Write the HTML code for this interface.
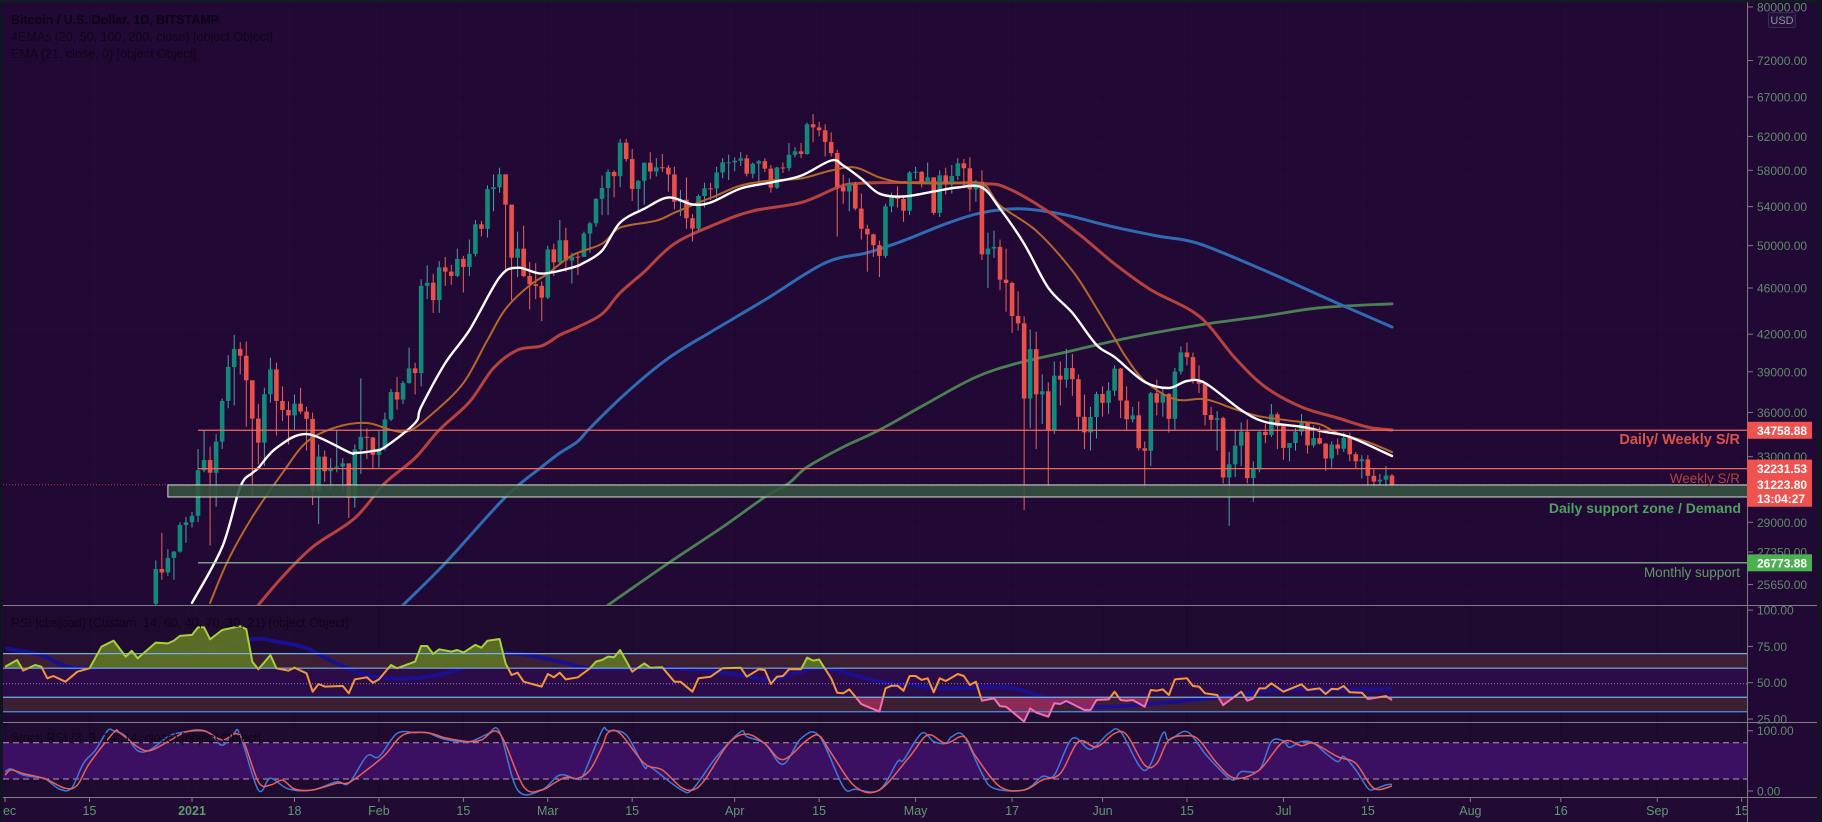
<!DOCTYPE html>
<html lang="en">
<head>
<meta charset="utf-8">
<title>Bitcoin / U.S. Dollar daily chart</title>
<style>
html,body{margin:0;padding:0;background:#220835;width:1822px;height:822px;overflow:hidden}
svg{display:block;font-family:"Liberation Sans",sans-serif}
</style>
</head>
<body>
<svg id="chart" xmlns="http://www.w3.org/2000/svg" width="1822" height="822" viewBox="0 0 1822 822">
  <defs>
    <clipPath id="clip-main"><rect x="3" y="3" width="1745" height="602"/></clipPath>
    <clipPath id="clip-time"><rect x="3" y="797" width="1745" height="25"/></clipPath>
    <clipPath id="clip-rsi-high"><rect x="3" y="606" width="1745" height="62.2"/></clipPath>
    <clipPath id="clip-rsi-mid"><rect x="3" y="668.2" width="1745" height="29"/></clipPath>
    <clipPath id="clip-rsi-low"><rect x="3" y="697.2" width="1745" height="25.5"/></clipPath>
  </defs>
  <rect x="0" y="0" width="1822" height="822" fill="#220835"/>
  <rect x="3" y="605" width="1745" height="118" fill="#1f0a30"/>
  <rect x="3" y="723" width="1745" height="74" fill="#1f0a30"/>
  <rect x="3" y="797" width="1745" height="25" fill="#210a33"/>
  <g id="grid"></g>
  <g id="rsi-panel"></g>
  <g id="stoch-panel"></g>
  <g id="main-panel" clip-path="url(#clip-main)"></g>

  <line x1="3" y1="605.5" x2="1817" y2="605.5" stroke="#7c7f80" stroke-width="1"/>
  <line x1="3" y1="722.5" x2="1817" y2="722.5" stroke="#7c7f80" stroke-width="1"/>
  <line x1="3" y1="797.5" x2="1817" y2="797.5" stroke="#7c7f80" stroke-width="1"/>
  <line x1="1747.5" y1="2" x2="1747.5" y2="822" stroke="#7c7f80" stroke-width="1"/>

  <g id="price-axis" font-size="12" fill="#5f8c6a"></g>
  <g id="rsi-axis" font-size="12" fill="#5f8c6a"></g>
  <g id="stoch-axis" font-size="12" fill="#5f8c6a"></g>
  <g id="time-axis" font-size="12.5" fill="#5f9a6c" clip-path="url(#clip-time)"></g>
  <g id="price-badges"></g>

  <g>
    <rect x="1768.5" y="12.5" width="27" height="15" rx="2" fill="#241038" stroke="#3a2a55"/>
    <text x="1782" y="24" font-size="11" text-anchor="middle" fill="#8f93a6">USD</text>
  </g>

  <text x="1740" y="444" font-size="14.5" font-weight="bold" text-anchor="end" fill="#d8544a">Daily/ Weekly S/R</text>
  <text x="1740" y="483" font-size="13.5" text-anchor="end" fill="#b0433f">Weekly S/R</text>
  <text x="1741" y="513" font-size="14" font-weight="bold" text-anchor="end" fill="#4da25b">Daily support zone / Demand</text>
  <text x="1740" y="577" font-size="13.5" text-anchor="end" fill="#5f9a66">Monthly support</text>

  <text x="11" y="24" font-size="12.5" font-weight="bold" fill="#0b0414">Bitcoin / U.S. Dollar, 1D, BITSTAMP</text>
  <text x="11" y="41" font-size="12.5" fill="#0e0618">4EMAs (20, 50, 100, 200, close) [object Object]</text>
  <text x="11" y="58" font-size="12.5" fill="#0e0618">EMA (21, close, 0) [object Object]</text>
  <text x="11" y="627" font-size="12.5" fill="#0e0618">RSI [cbsjoad] (Custom: 14, 60, 40, 70, 30, 21) [object Object]</text>
  <text x="11" y="742" font-size="12.5" fill="#0e0618">Stoch RSI (3, 3, 14, 14, close) [object Object]</text>

  <rect x="0" y="0" width="2.5" height="822" fill="#0e1420"/>
  <rect x="0" y="0" width="1822" height="2.5" fill="#141a24"/>
  <rect x="1817" y="0" width="5" height="822" fill="#121622"/>
</svg>
<script>
// ---- Candle data: one entry per day, first candle is Dec 26 2020 (day -6, day 0 = Jan 1 2021) ----
const firstCandleDay = -6;
const opens = [
24700,26450,26270,27036,27370,28840,
29000,29374,32127,32782,31971,33992,36824,39371,40797,40254,38356,35566,33922,37316,39187,36825,36178,35792,36630,36069,35547,30825,33005,32067,32289,32366,32569,30432,33466,34316,34269,
33114,33537,35510,37472,36926,38144,39266,38903,46196,46481,44918,47910,47504,47105,48717,47944,49199,52149,51679,55888,56099,57539,54207,48824,49705,47093,46339,46188,
45137,49631,48378,50538,48561,48927,48912,51206,52246,54824,56008,57805,57332,61243,59302,55907,56804,58870,57858,58346,58313,57523,54529,54738,52774,51704,55137,55974,55947,57750,58917,
58918,59095,59384,57603,58758,59057,58192,56048,58323,58245,59793,60204,59893,63503,63109,62757,61334,60006,56150,55633,56425,53787,51690,51125,50047,49004,54021,55033,54824,53555,
57750,57828,56631,57200,53333,57424,56396,57356,58803,58232,55859,56704,49150,49716,49880,46760,46456,43537,42909,37002,40782,37304,37536,34770,38705,38403,39294,38436,35697,34616,35678,
37332,36693,37576,39249,36856,35521,35796,33552,33380,37389,36702,37334,35552,39020,40516,40144,38349,38092,35819,35483,35600,31676,32505,33723,34662,31637,32186,34649,34434,35867,
35040,33572,33897,34668,35287,33746,34235,33855,32877,33798,33520,34240,33155,32702,32822,31780,31421,31533,31796];
const highs = [
26900,28400,27500,27400,28990,29300,
29600,33500,34800,33650,34500,37000,40300,41950,41350,41400,38300,36600,37800,40100,39700,37900,36800,37300,37800,36400,36000,33800,33400,32900,34800,32900,32550,33800,38500,34900,34300,
34700,36000,37700,38600,38300,40900,39700,46800,48100,47300,48500,48900,48150,49700,49000,50600,52600,52500,56300,57500,58300,57500,54200,51400,52000,48400,48300,46600,
50000,50200,52600,51800,49300,49200,51400,52400,54900,57400,58100,58000,61700,61700,60500,56900,58900,60100,59400,59900,58600,58400,55800,57200,53200,55300,56600,56600,58400,59400,59800,
59500,60100,59800,58900,59200,59400,58600,58400,58900,61200,60700,61200,63700,64800,63800,63500,62500,60400,57500,57100,56700,55400,52100,51200,50500,54300,55500,56200,55100,57900,
58400,57900,58900,57200,58000,58300,58600,59400,59300,59500,56900,58000,51300,51500,50600,49700,46600,45700,43500,42400,42200,38800,38200,39800,39800,40800,40400,38800,37300,36400,37500,
37900,38200,39500,39300,37900,36400,36800,34000,37500,38400,37700,37400,39300,41000,41300,40500,39500,38200,36400,36100,35700,33300,34800,35300,35500,32700,34700,35200,36600,36000,
35000,33900,34900,35900,35300,35100,35000,33900,34000,34200,34600,34600,33300,33100,33100,32200,31900,32400,31900];
const lows = [
24500,25900,26100,25900,27320,27850,
28700,29000,32000,27700,29900,33500,36300,36500,38800,35000,30500,32500,32400,36700,34400,35400,33800,34800,35900,33400,30000,28900,31400,30900,32000,30800,29250,29850,31900,32850,32200,
32300,33400,35400,36200,36600,38100,37300,37900,45000,43800,43800,46200,46300,47000,45600,47100,48950,50900,50800,53500,55500,47600,44900,47000,47000,44100,45000,43100,
45000,47100,48200,47500,46400,47200,48900,49300,51900,53100,53100,55000,56100,59000,54600,53300,54200,57000,57300,57800,55600,53700,53000,51700,50400,51500,53900,54700,54900,57100,56900,
57900,58500,57300,57100,56700,57800,55500,55900,57700,57900,59500,59400,59800,61300,62000,59600,59600,50900,54300,53500,53600,50600,47500,48900,47000,48800,53400,53900,52400,53100,
57000,56100,56500,53100,52900,55300,55400,56900,56300,53500,54500,48600,46000,48800,45800,43900,42100,42300,29700,34900,33500,35200,31100,34500,36500,37800,37200,34700,33500,33400,34200,
35700,35900,37200,35600,34800,35300,33400,31000,32400,35800,35700,34600,34800,38800,39500,38100,37400,35100,34800,33400,31300,28800,31700,32400,31300,30200,32000,33900,34300,33500,
32800,32700,33400,34400,33200,33600,33800,32100,32300,33100,33300,32700,32200,31600,31100,31000,31200,31100,31000];
const closes = [
26450,26270,27036,27370,28840,29000,
29374,32127,32782,31971,33992,36824,39371,40797,40254,38356,35566,33922,37316,39187,36825,36178,35792,36630,36069,35547,30825,33005,32067,32289,32366,32569,30432,33466,34316,34269,33114,
33537,35510,37472,36926,38144,39266,38903,46196,46481,44918,47910,47504,47105,48717,47944,49199,52149,51679,55888,56099,57539,54207,48824,49705,47093,46339,46188,45137,
49631,48378,50538,48561,48927,48912,51206,52246,54824,56008,57805,57332,61243,59302,55907,56804,58870,57858,58346,58313,57523,54529,54738,52774,51704,55137,55974,55947,57750,58917,58918,
59095,59384,57603,58758,59057,58192,56048,58323,58245,59793,60204,59893,63503,63109,62757,61334,60006,56150,55633,56425,53787,51690,51125,50047,49004,54021,55033,54824,53555,57750,
57828,56631,57200,53333,57424,56396,57356,58803,58232,55859,56704,49150,49716,49880,46760,46456,43537,42909,37002,40782,37304,37536,34770,38705,38403,39294,38436,35697,34616,35678,37332,
36693,37576,39249,36856,35521,35796,33552,33380,37389,36702,37334,35552,39020,40516,40144,38349,38092,35819,35483,35600,31676,32505,33723,34662,31637,32186,34649,34434,35867,35040,
33572,33897,34668,35287,33746,34235,33855,32877,33798,33520,34240,33155,32702,32822,31780,31421,31533,31796,31223];

// ---- Moving averages (day, price) ----
const whiteDays = [0,5,8,10,11,14,19,26,27,30,32,37,38,42,46,51,54,58,63,65,68,71,75,79,83,86,91,96,101,106,108,111,114,118,123,127,131,134,138,142,146,150,153,158,162,165,168,174,178,184,188,192,199];
const whiteValues = [24740,27620,31085,31950,32270,33570,34500,33300,33240,33370,33630,35260,36390,39680,42330,46970,47880,47320,47880,48350,49510,52320,53770,54970,54230,54440,55960,56620,57390,59130,58550,57050,55400,55080,55630,56070,56070,53770,50190,46020,43800,41120,40150,38230,37780,38300,38150,36170,35330,35000,34640,34300,33040];
const orangeDays = [3,6,10,15,19,24,29,33,36,40,45,49,52,56,59,63,68,71,77,80,84,87,91,96,101,106,110,114,118,125,131,134,140,146,150,153,155,158,163,168,173,177,183,187,190,195,199];
const orangeValues = [24740,26920,29300,31950,33960,34980,35260,34780,34710,35960,38150,41520,44140,46240,47320,49040,50190,51800,52520,53350,54420,55190,56290,56850,57070,57980,58320,57190,56620,56500,56500,54110,51490,47580,44210,41670,40060,38300,36950,36950,36230,35730,35380,35180,34570,33960,33300];
const redDays = [11,15,20,27,32,37,41,46,50,54,58,61,64,68,71,75,80,87,93,101,107,110,118,131,135,141,147,153,159,167,173,178,184,190,195,199];
const redValues = [24640,26040,27620,29240,31330,32910,34780,36750,39290,40710,41050,41930,42600,43700,45570,47500,50190,52200,53540,54420,56060,56500,56620,56500,56060,53890,51190,48240,45840,43520,40060,37850,36390,35610,34980,34780];
const blueDays = [35,42,52,58,61,64,66,72,79,86,95,105,112,118,125,131,137,144,152,160,167,178,185,191,199];
const blueValues = [24640,26760,30480,32340,33240,34010,34910,37410,40060,42170,44930,48330,49310,50490,52200,53350,53770,53240,51990,50970,50190,47580,45840,44400,42600];
const greenDays = [69,79,88,95,99,102,108,114,122,130,137,145,155,167,177,187,199];
const greenValues = [24640,26760,28730,30480,31330,32330,33630,34780,36680,38600,39680,40550,41670,42760,43460,44240,44590];

// ---- RSI panel ----
const rsiDays = [-31,-29,-28,-26,-25,-24,-23,-21,-19,-17,-15,-13,-11,-10,-9,-6,-4,-3,-2,0,1,2,3,5,8,9,10,11,13,14,16,17,19,20,21,22,25,26,27,29,30,31,33,34,37,38,39,40,41,43,44,45,47,48,49,51,52,53,54,55,58,59,60,61,62,64,66,67,68,69,70,71,73,75,76,78,80,81,83,84,86,88,91,92,94,95,96,97,98,99,101,102,103,104,106,107,108,109,111,112,114,115,116,117,118,119,120,121,122,123,124,125,127,128,129,130,131,133,134,135,138,139,140,142,143,144,145,148,149,150,152,153,154,155,156,158,159,160,161,162,163,165,166,167,168,170,171,174,175,176,177,178,179,181,184,185,187,188,189,190,191,192,194,195,198,199];
const rsiValues = [61,65.6,58.3,62.2,61,53,54.6,50.7,57.6,59.9,74.8,79,67.9,72,66.8,77.6,77.1,79,82.2,82.9,88.1,88.1,79.9,86.3,89,86.8,64.5,59.2,69,59.9,58.3,60.3,56.5,43.8,49.1,47.3,47.7,42.7,52.3,53.7,50,52.3,62.2,59.9,64.5,75.3,75.3,69.8,73,71.4,72.5,70.7,76,74.1,78.9,80.1,63.3,55.3,56.9,50.7,47.3,56,53.7,56.9,52.3,53.7,59.9,64.5,65.6,68,67.5,72.5,57.6,63.3,60.3,60.6,50.7,50.7,43.8,53,54.1,60,60.3,54.1,59.2,58.7,49.1,54.1,54.6,59.2,59.2,67.2,65.2,66,53,43.1,42.7,45.4,35.3,33.5,30.1,46.1,47.9,47.9,44.5,54.6,54.6,51.9,53,43.4,53,51.2,56,54.6,48.4,50.7,37.6,39.2,33.9,33.5,23.2,32.3,29.4,26.6,35.8,35.3,37.4,31.2,31.2,38.1,38.5,43.8,38.1,37.6,38.1,33.5,45,44.5,45.4,41.5,52.3,53,47.7,47.3,42.7,41.5,34.6,43.8,37.6,39.2,46.1,46.1,49.6,43.8,48.9,45,46.1,42.2,45.7,45.5,47.7,43.4,43.1,38.8,40.8,38.1];
const rsiMaDays = [-31,-25,-19,-6,9,14,19,24,30,37,44,52,61,66,78,87,96,99,105,114,120,124,135,142,150,160,171,180,190,199];
const rsiMaValues = [73.7,69,60,65.6,79.4,78.3,73.7,63.3,54.2,53,58.7,70.2,64.5,60,60,57.6,51.9,55.3,59.9,50.7,48.4,46.1,46.8,39.2,33.5,35.8,40.4,45,45.4,45.4];
const rsiBands = [70,60,40,30];
const rsiTicks = [100,75,50,25];

// ---- Stochastic RSI panel ----
const stochKDays = [-31,-30,-28,-25,-24,-22,-20,-18,-16,-14,-13,-11,-9,-7,-4,-2,1,3,5,7,8,11,13,16,20,24,26,29,31,34,37,39,42,46,49,51,54,58,61,64,65,68,69,72,75,76,81,83,87,91,92,95,98,101,104,108,110,114,117,118,121,123,125,126,128,131,133,138,141,143,146,149,152,154,158,161,162,165,168,170,172,173,174,177,179,181,182,184,186,188,190,191,193,195,196,198,199];
const stochKValues = [32,36.5,26.5,22,18,3.3,4.4,46,67.9,100,100,91,66.8,68,90,96.7,100,95.6,76,96.7,93,1.7,21,3.3,1.7,15.5,12.7,58,56.9,95.6,96.7,96.7,85.6,81.8,94.4,98.3,1.7,1.7,26.5,19.3,29,100,100,93,40,40,2.8,2.8,57,98.3,90,78.5,44.2,87,91.7,7.2,2.8,1.7,48.6,51.4,95.6,82,79,90,91.7,29,4.4,1.7,23.8,26.5,87.3,69,95.6,98.3,34,95.6,84.5,98.3,62,40,21,19.3,32,34.8,81.8,83,72.4,82,79.5,62.7,48.6,57,34.8,4.4,2.8,10,11];
const stochDDays = [-31,-30,-28,-25,-24,-21,-19,-17,-13,-12,-9,-7,-4,-1,2,5,8,11,13,15,17,20,24,26,29,32,35,39,42,46,48,51,55,58,60,62,64,66,68,69,71,75,78,81,83,85,89,92,95,98,102,104,106,110,114,119,122,125,128,130,134,138,141,144,147,150,153,155,158,160,162,165,167,170,173,177,181,184,186,190,193,196,199];
const stochDValues = [26.5,35,29,22,19,4.4,10,46,96.7,96.7,73,66.8,81.8,98,100,84.5,91.7,15.5,9.9,18,3.3,1.7,12.7,13.8,35,59.7,92.8,96.7,88,81.8,84.5,95.6,7.2,1.7,12.7,22.6,21,34.8,73,96.7,95.6,45.8,34.8,7.2,1.7,18,79,94.4,78.5,52,84.5,91.7,62.7,7.2,1.7,56.9,92.8,79,90,56.9,7.2,1.7,18,29,81.8,73,95.6,93,43,45.8,84.5,91.7,84.5,45.8,21,34.8,81.8,75,79,56.9,45.8,4.4,8.3];
const stochBands = [80,20];
const stochTicks = [100,0];

// ---- Axes labels and horizontal levels ----
const priceTicks = [80000,72000,67000,62000,58000,54000,50000,46000,42000,39000,36000,33000,29000,27350,25650];
const timeTickDays = [-31,-17,0,17,31,45,59,73,90,104,120,136,151,165,181,195,212,227,243,257];
const timeTickLabels = ['Dec','15','2021','18','Feb','15','Mar','15','Apr','15','May','17','Jun','15','Jul','15','Aug','16','Sep','15'];
const dailyWeeklyLevel = 34758.88;
const weeklyLevel = 32231.53;
const monthlyLevel = 26773.88;
const lastPrice = 31223.80;
const zoneTopPrice = 31210;
const zoneBottomPrice = 30480;
const levelStartDay = 1;
const zoneStartDay = -4;
const countdownText = '13:04:27';

// ---- Axis functions ----
function timeX(day){ return 192 + 6.03 * day; }
function priceY(p){ return 584.6 - 507.8 * Math.log(p / 25650); }
function rsiY(v){ return 682.7 - (v - 50) * 1.452; }
function stochY(v){ return 791 - v * 0.603; }

const NS = 'http://www.w3.org/2000/svg';
function mk(parent, tag, attrs, text){
  const el = document.createElementNS(NS, tag);
  for (const k in attrs) el.setAttribute(k, attrs[k]);
  if (text !== undefined) el.textContent = text;
  parent.appendChild(el);
  return el;
}
function linePoints(days, values, yFn){
  return days.map(function(d, i){ return timeX(d).toFixed(1) + ',' + yFn(values[i]).toFixed(1); }).join(' ');
}
// smooth curve through the data points (Catmull-Rom converted to cubic Beziers)
function smoothPath(days, values, yFn){
  const pts = days.map(function(d, i){ return [timeX(d), yFn(values[i])]; });
  let out = 'M' + pts[0][0].toFixed(1) + ' ' + pts[0][1].toFixed(1);
  for (let i = 0; i < pts.length - 1; i++) {
    const p0 = pts[Math.max(i - 1, 0)];
    const p1 = pts[i];
    const p2 = pts[i + 1];
    const p3 = pts[Math.min(i + 2, pts.length - 1)];
    const c1x = p1[0] + (p2[0] - p0[0]) / 6;
    const c1y = p1[1] + (p2[1] - p0[1]) / 6;
    const c2x = p2[0] - (p3[0] - p1[0]) / 6;
    const c2y = p2[1] - (p3[1] - p1[1]) / 6;
    out += ' C' + c1x.toFixed(1) + ' ' + c1y.toFixed(1) + ' ' + c2x.toFixed(1) + ' ' + c2y.toFixed(1) + ' ' + p2[0].toFixed(1) + ' ' + p2[1].toFixed(1);
  }
  return out;
}

const grid = document.getElementById('grid');
const mainPanel = document.getElementById('main-panel');
const rsiPanel = document.getElementById('rsi-panel');
const stochPanel = document.getElementById('stoch-panel');
const priceAxis = document.getElementById('price-axis');
const rsiAxis = document.getElementById('rsi-axis');
const stochAxis = document.getElementById('stoch-axis');
const timeAxis = document.getElementById('time-axis');
const badges = document.getElementById('price-badges');

// grid
timeTickDays.forEach(function(d){
  const g = mk(grid, 'line', {x1: timeX(d), x2: timeX(d), y1: 3, y2: 797, stroke: '#000', 'stroke-opacity': 0.1});
  
  
});
priceTicks.forEach(function(p){
  const g = mk(grid, 'line', {x1: 3, x2: 1748, y1: priceY(p), y2: priceY(p), stroke: '#000', 'stroke-opacity': 0.08});
  
  
});

// slow moving averages under candles
function drawMa(parent, days, values, color, width, name){
  const l = mk(parent, 'path', {d: smoothPath(days, values, priceY), fill: 'none', stroke: color, 'stroke-width': width, 'stroke-linejoin': 'round', 'stroke-linecap': 'round'});
  
  
}
drawMa(mainPanel, greenDays, greenValues, '#4a8052', 2.8, 'ema-200-line');
drawMa(mainPanel, blueDays, blueValues, '#2f6bb3', 3, 'ema-100-line');
drawMa(mainPanel, redDays, redValues, '#b5423f', 3, 'ema-50-line');

// candles
closes.forEach(function(c, i){
  const day = firstCandleDay + i;
  const o = opens[i];
  const up = c >= o;
  const x = timeX(day);
  const group = mk(mainPanel, 'g', {});
  
  
  const wick = mk(group, 'line', {x1: x, x2: x, y1: priceY(highs[i]), y2: priceY(lows[i]), stroke: up ? '#4f9fa6' : '#e8625a', 'stroke-width': 1});
  
  
  const top = priceY(Math.max(o, c));
  const bottom = priceY(Math.min(o, c));
  const body = mk(group, 'rect', {x: x - 2.3, y: top, width: 4.6, height: Math.max(bottom - top, 1), fill: up ? '#12897a' : '#e8504a'});
  
  
});

// fast moving averages above candles
drawMa(mainPanel, orangeDays, orangeValues, '#b3672c', 2, 'ema-20-line');
drawMa(mainPanel, whiteDays, whiteValues, '#ffffff', 2.4, 'ema-21-line');

// horizontal levels
const lastLine = mk(mainPanel, 'line', {x1: 3, x2: 1748, y1: priceY(lastPrice), y2: priceY(lastPrice), stroke: '#ef5350', 'stroke-dasharray': '1 2', 'stroke-opacity': 0.75});


const drLine = mk(mainPanel, 'line', {x1: timeX(levelStartDay), x2: 1748, y1: priceY(dailyWeeklyLevel), y2: priceY(dailyWeeklyLevel), stroke: '#ee6a5a', 'stroke-width': 1.2});


const wLine = mk(mainPanel, 'line', {x1: timeX(levelStartDay), x2: 1748, y1: priceY(weeklyLevel), y2: priceY(weeklyLevel), stroke: '#ee6a5a', 'stroke-width': 1.2});


const mLine = mk(mainPanel, 'line', {x1: timeX(levelStartDay), x2: 1748, y1: priceY(monthlyLevel), y2: priceY(monthlyLevel), stroke: '#8fcf95', 'stroke-width': 1.2});


const zone = mk(mainPanel, 'rect', {x: timeX(zoneStartDay), y: priceY(zoneTopPrice), width: 1748 - timeX(zoneStartDay) + 2, height: priceY(zoneBottomPrice) - priceY(zoneTopPrice), fill: '#34533f', 'fill-opacity': 0.88, stroke: '#d7dcd6', 'stroke-width': 1});



// RSI panel
const rsiMid = mk(rsiPanel, 'rect', {x: 3, y: rsiY(60), width: 1745, height: rsiY(40) - rsiY(60), fill: '#2c0c48'});


const rsiUpperBand = mk(rsiPanel, 'rect', {x: 3, y: rsiY(rsiBands[0]), width: 1745, height: rsiY(rsiBands[1]) - rsiY(rsiBands[0]), fill: '#3c1f33'});


const rsiLowerBand = mk(rsiPanel, 'rect', {x: 3, y: rsiY(rsiBands[2]), width: 1745, height: rsiY(rsiBands[3]) - rsiY(rsiBands[2]), fill: '#3c1f33'});



const rsiMaLine = mk(rsiPanel, 'path', {d: smoothPath(rsiMaDays, rsiMaValues, rsiY), fill: 'none', stroke: '#1b0f90', 'stroke-width': 4, 'stroke-linejoin': 'round'});



const rsiLinePts = linePoints(rsiDays, rsiValues, rsiY);
const firstX = timeX(rsiDays[0]).toFixed(1);
const lastX = timeX(rsiDays[rsiDays.length - 1]).toFixed(1);
const fillHigh = mk(rsiPanel, 'polygon', {points: firstX + ',' + rsiY(60) + ' ' + rsiLinePts + ' ' + lastX + ',' + rsiY(60), fill: '#5e7424', 'fill-opacity': 0.92, 'clip-path': 'url(#clip-rsi-high)'});


const fillLow = mk(rsiPanel, 'polygon', {points: firstX + ',' + rsiY(40) + ' ' + rsiLinePts + ' ' + lastX + ',' + rsiY(40), fill: '#a52f62', 'fill-opacity': 0.75, 'clip-path': 'url(#clip-rsi-low)'});



rsiBands.forEach(function(v, i){
  const b = mk(rsiPanel, 'line', {x1: 3, x2: 1748, y1: rsiY(v), y2: rsiY(v), stroke: i === 3 ? '#4f8fe8' : '#72b0e4', 'stroke-width': 1.2});
  
  
});
const rsiMidLine = mk(rsiPanel, 'line', {x1: 3, x2: 1748, y1: rsiY(50) + 1, y2: rsiY(50) + 1, stroke: '#8f86c8', 'stroke-dasharray': '1 2'});



const rsiHighLine = mk(rsiPanel, 'polyline', {points: rsiLinePts, fill: 'none', stroke: '#a8cf3c', 'stroke-width': 2, 'stroke-linejoin': 'round', 'clip-path': 'url(#clip-rsi-high)'});


const rsiMidSeries = mk(rsiPanel, 'polyline', {points: rsiLinePts, fill: 'none', stroke: '#f5953c', 'stroke-width': 2, 'stroke-linejoin': 'round', 'clip-path': 'url(#clip-rsi-mid)'});


const rsiLowLine = mk(rsiPanel, 'polyline', {points: rsiLinePts, fill: 'none', stroke: '#ef6fb0', 'stroke-width': 2, 'stroke-linejoin': 'round', 'clip-path': 'url(#clip-rsi-low)'});



// Stoch panel
const stochBand = mk(stochPanel, 'rect', {x: 3, y: stochY(stochBands[0]), width: 1745, height: stochY(stochBands[1]) - stochY(stochBands[0]), fill: '#3b0f62'});


stochBands.forEach(function(v){
  const b = mk(stochPanel, 'line', {x1: 3, x2: 1748, y1: stochY(v), y2: stochY(v), stroke: '#b79ab8', 'stroke-dasharray': '6 4'});
  
  
});
const kLine = mk(stochPanel, 'path', {d: smoothPath(stochKDays, stochKValues, stochY), fill: 'none', stroke: '#3f78d8', 'stroke-width': 1.5, 'stroke-linejoin': 'round'});


const dLine = mk(stochPanel, 'path', {d: smoothPath(stochDDays, stochDValues, stochY), fill: 'none', stroke: '#e8605a', 'stroke-width': 1.5, 'stroke-linejoin': 'round'});



// price axis labels
function axisTick(parent, y, label){
  const t = mk(parent, 'line', {x1: 1748, x2: 1753, y1: y, y2: y, stroke: '#7c7f80'});
  
  
  const txt = mk(parent, 'text', {x: 1757, y: y + 4.5}, label);
  
  
}
priceTicks.forEach(function(p){ axisTick(priceAxis, priceY(p), p.toFixed(2)); });
rsiTicks.forEach(function(v){ axisTick(rsiAxis, rsiY(v), v.toFixed(2)); });
stochTicks.forEach(function(v){ axisTick(stochAxis, stochY(v), v.toFixed(2)); });

// time axis labels
timeTickDays.forEach(function(d, i){
  const label = timeTickLabels[i];
  const t = mk(timeAxis, 'line', {x1: timeX(d), x2: timeX(d), y1: 797, y2: 802, stroke: '#7c7f80'});
  
  
  const txt = mk(timeAxis, 'text', {x: timeX(d), y: 815, 'text-anchor': 'middle'}, label);
  if (label === '2021') { txt.setAttribute('font-weight', 'bold'); }
  
  
});

// price badges
function badge(price, color, h, name){
  const y = priceY(price);
  const r = mk(badges, 'rect', {x: 1747, y: y - h / 2, width: 65, height: h, fill: color});
  
  
  return y;
}
function badgeText(y, text, name){
  const t = mk(badges, 'text', {x: 1757, y: y + 4.5, 'font-size': 12, 'font-weight': 'bold', fill: '#ffffff'}, text);
  
  
}
const drY = badge(dailyWeeklyLevel, '#ef5350', 17, 'daily-weekly-level');
badgeText(drY, dailyWeeklyLevel.toFixed(2), 'daily-weekly-level');
const mY = badge(monthlyLevel, '#4caf50', 17, 'monthly-level');
badgeText(mY, monthlyLevel.toFixed(2), 'monthly-level');
const wkY = priceY(weeklyLevel);
const lastY = priceY(lastPrice);
const stack = mk(badges, 'rect', {x: 1747, y: wkY - 9, width: 65, height: lastY - wkY + 31, fill: '#ef5350'});


badgeText(wkY, weeklyLevel.toFixed(2), 'weekly-level');
badgeText(lastY, lastPrice.toFixed(2), 'current-price');
badgeText(lastY + 14, countdownText, 'countdown');
</script>
</body>
</html>
